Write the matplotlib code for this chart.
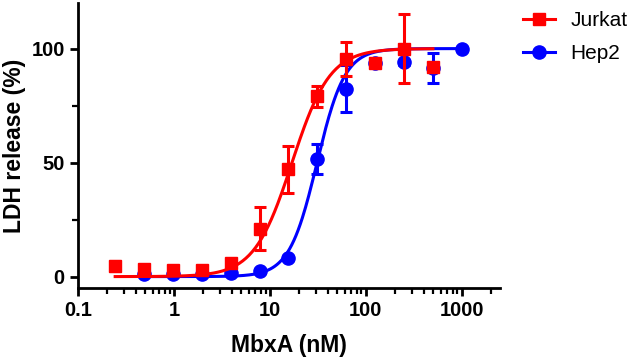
import numpy as np
import matplotlib
matplotlib.use("Agg")
import matplotlib.pyplot as plt
from matplotlib.lines import Line2D
from matplotlib.ticker import LogLocator, FixedLocator, FuncFormatter

plt.rcParams['font.family'] = ['Liberation Sans', 'DejaVu Sans']

# serial dilution 1000 nM / 2^n
jurkat_x = [0.244, 0.488, 0.977, 1.95, 3.91, 7.81, 15.6, 31.25, 62.5, 125, 250, 500]
jurkat_y = [4.8, 3.2, 2.8, 3.0, 6.0, 21, 47, 79, 95.5, 93.5, 100, 92]
jurkat_err = [2.2, 0.5, 0.5, 0.5, 0.8, 9.5, 10.5, 4.5, 7.5, 1.0, 15, 1.0]

hep2_x = [0.488, 0.977, 1.95, 3.91, 7.81, 15.6, 31.25, 62.5, 125, 250, 500, 1000]
hep2_y = [1.0, 1.2, 1.3, 1.7, 2.6, 8.0, 51.5, 82.5, 93.5, 94, 91.5, 100]
hep2_err = [0.3, 0.3, 0.3, 0.3, 0.3, 0.5, 6.5, 10.5, 1.0, 1.0, 6.5, 0.0]

# fitted dose-response parameters (bottom, top, EC50, Hill slope)
jurkat_fit = (0.0, 100.0, 17.0, 2.2)
hep2_fit = (0.0, 100.0, 31.0, 3.0)


def hill(x, bottom, top, ec50, n):
    return bottom + (top - bottom) / (1 + (ec50 / x) ** n)


fig = plt.figure(figsize=(6.29, 3.58), dpi=100)
ax = fig.add_axes([78 / 629, 1 - 288 / 358, (500 - 78) / 629, 285 / 358])

series = [
    ("Hep2", hep2_x, hep2_y, hep2_err, hep2_fit, "#0000ff", "o", 9.5),
    ("Jurkat", jurkat_x, jurkat_y, jurkat_err, jurkat_fit, "#ff0000", "s", 9),
]
handles = {}
for name, xs, ys, es, fit, col, mk, ms in series:
    xx = np.logspace(np.log10(xs[0]), np.log10(xs[-1]), 300)
    ax.plot(xx, hill(xx, *fit), color=col, lw=2.2)
    ax.errorbar(xs, ys, yerr=es, fmt="none", ecolor=col, elinewidth=2.2, capsize=4, capthick=2.2)
    ax.plot(xs, ys, ls="none", marker=mk, ms=ms, color=col)
    handles[name] = Line2D([], [], color=col, marker=mk, ms=ms, lw=2.2)

ax.set_xscale("log")
ax.set_xlim(0.1, 2500)
ax.set_ylim(-5, 120)

ax.xaxis.set_major_locator(FixedLocator([0.1, 1, 10, 100, 1000]))
ax.xaxis.set_major_formatter(FuncFormatter(lambda v, p: "%g" % v))
ax.xaxis.set_minor_locator(LogLocator(base=10, subs=np.arange(2, 10), numticks=20))
ax.yaxis.set_major_locator(FixedLocator([0, 50, 100]))
ax.yaxis.set_minor_locator(FixedLocator([25, 75]))

for s in ["top", "right"]:
    ax.spines[s].set_visible(False)
for s in ["left", "bottom"]:
    ax.spines[s].set_linewidth(2)
ax.tick_params(which="major", length=6, width=2, labelsize=14.5)
ax.tick_params(which="minor", length=4, width=1.6)
for lab in ax.get_xticklabels() + ax.get_yticklabels():
    lab.set_fontweight("bold")

ax.set_xlabel("MbxA (nM)", fontsize=16.5, fontweight="bold", labelpad=10)
ax.set_ylabel("LDH release (%)", fontsize=16.5, fontweight="bold", labelpad=4)

fig.legend([handles["Jurkat"], handles["Hep2"]], ["Jurkat", "Hep2"],
           loc="upper left", bbox_to_anchor=(515 / 629, 1 - 3 / 358),
           frameon=False, fontsize=15, handlelength=1.5, handletextpad=0.75,
           labelspacing=0.65, borderaxespad=0)

fig.savefig("out.png", dpi=100)
